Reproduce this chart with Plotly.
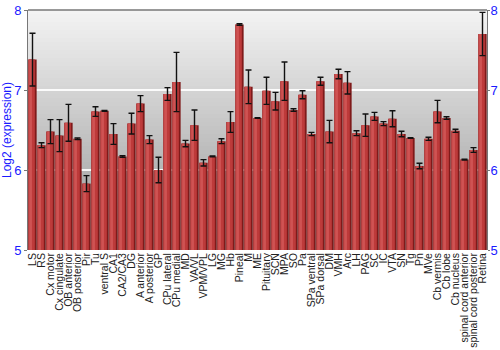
import plotly.graph_objects as go

regions = ["LS", "RS", "Cx motor", "Cx cingulate", "OB anterior", "OB posterior", "Pir", "Tu",
           "ventral S", "CA1", "CA2/CA3", "DG", "A anterior", "A posterior", "GP", "CPu lateral",
           "CPu medial", "MD", "VA/VL", "VPM/VPL", "LG", "MG", "Hb", "Pineal", "M", "ME",
           "Pituitary", "SCN", "MPA", "SO", "Pa", "SPa ventral", "SPa dorsal", "DM", "VMH", "Arc",
           "LH", "PAG", "SC", "IC", "VTA", "SN", "Tg", "Pn", "MVe", "Cb vermis", "Cb lobe",
           "Cb nucleus", "spinal cord anterior", "spinal cord posterior", "Retina"]

expression = [7.38, 6.31, 6.48, 6.43, 6.59, 6.39, 5.83, 6.73, 6.74, 6.45, 6.17, 6.58, 6.83, 6.38,
              6.00, 6.95, 7.10, 6.33, 6.56, 6.09, 6.17, 6.36, 6.60, 7.82, 7.04, 6.65, 6.99, 6.86,
              7.11, 6.75, 6.94, 6.45, 7.11, 6.48, 7.20, 7.09, 6.46, 6.56, 6.67, 6.58, 6.64, 6.45,
              6.40, 6.05, 6.39, 6.73, 6.65, 6.49, 6.13, 6.25, 7.70]

error = [0.33, 0.03, 0.15, 0.20, 0.23, 0.01, 0.10, 0.06, 0.005, 0.13, 0.01, 0.13, 0.10, 0.05,
         0.16, 0.08, 0.37, 0.04, 0.19, 0.04, 0.005, 0.03, 0.13, 0.01, 0.21, 0.005, 0.17, 0.11,
         0.24, 0.015, 0.05, 0.02, 0.05, 0.14, 0.06, 0.14, 0.03, 0.14, 0.05, 0.025, 0.10, 0.035,
         0.005, 0.035, 0.02, 0.14, 0.015, 0.02, 0.005, 0.03, 0.27]

y_ticks = [5, 6, 7, 8]
y_range = [5, 8]

fig = go.Figure()

heights = [v - y_range[0] for v in expression]
# base (dark right edge)
fig.add_trace(go.Bar(x=regions, y=heights, base=y_range[0],
                     width=0.92, marker=dict(color="#7f1a1a", line=dict(width=0)),
                     hoverinfo="skip", showlegend=False))
# main body
fig.add_trace(go.Bar(x=regions, y=heights, base=y_range[0],
                     width=0.72, offset=-0.46, marker=dict(color="#bd3a3a", line=dict(width=0)),
                     showlegend=False))
# highlight
fig.add_trace(go.Bar(x=regions, y=heights, base=y_range[0],
                     width=0.3, offset=-0.36, marker=dict(color="#cf5353", line=dict(width=0)),
                     hoverinfo="skip", showlegend=False))
# error bars
fig.add_trace(go.Scatter(x=regions, y=expression, mode="markers",
                         marker=dict(size=1, color="rgba(0,0,0,0)"),
                         error_y=dict(type="data", array=error, color="#111111",
                                      thickness=1.4, width=3),
                         showlegend=False, hoverinfo="skip"))
# invisible trace for right axis
fig.add_trace(go.Scatter(x=[regions[0]], y=[y_range[0]], yaxis="y2", mode="markers",
                         marker=dict(size=1, color="rgba(0,0,0,0)"), showlegend=False,
                         hoverinfo="skip"))

# gradient background
n = 60
top = (243, 243, 243)
bot = (150, 150, 150)
shapes = []
for i in range(n):
    t = i / (n - 1)
    c = tuple(int(round(top[k] + (bot[k] - top[k]) * t)) for k in range(3))
    shapes.append(dict(type="rect", xref="paper", yref="paper", x0=0, x1=1,
                       y0=1 - (i + 1) / n, y1=1 - i / n, layer="below",
                       line=dict(width=0), fillcolor="rgb(%d,%d,%d)" % c))

blue = "#1a1aff"
fig.update_layout(
    width=500, height=350,
    margin=dict(l=28, r=13, t=10, b=100),
    paper_bgcolor="white", plot_bgcolor="rgba(0,0,0,0)",
    barmode="overlay",
    shapes=shapes,
    font=dict(family="Liberation Sans, Arial, sans-serif"),
    xaxis=dict(tickangle=-90, tickfont=dict(size=10.5, color="#222"), showgrid=False,
               tickmode="array", tickvals=regions, ticktext=regions,
               ticks="", showline=False, range=[-0.5, len(regions) - 0.5], automargin=False),
    yaxis=dict(range=y_range, tickvals=y_ticks, tickfont=dict(size=13, color=blue),
               showgrid=True, gridcolor="rgba(255,255,255,0.9)", gridwidth=1.5,
               ticks="outside", ticklen=3, tickcolor="#777", showline=True,
               linecolor="#777", linewidth=1, zeroline=False, automargin=False,
               title=dict(text="Log2 (expression)", font=dict(size=12, color=blue), standoff=4)),
    yaxis2=dict(range=y_range, tickvals=y_ticks, tickfont=dict(size=13, color=blue),
                overlaying="y", side="right", showgrid=False, ticks="outside", ticklen=2,
                ticklabelstandoff=-2,
                tickcolor="#777", showline=True, linecolor="#777", linewidth=1,
                zeroline=False, automargin=False),
)
# top border
fig.add_shape(type="line", xref="paper", yref="paper", x0=0, x1=1, y0=1, y1=1,
              line=dict(color="#777", width=1.5))

fig.write_html("out.html")
